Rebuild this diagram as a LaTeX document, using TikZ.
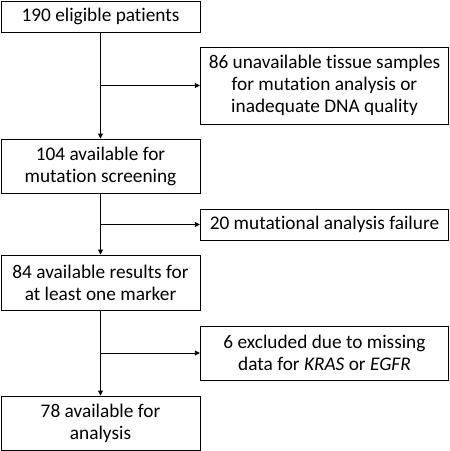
\documentclass[tikz,border=0pt]{standalone}
\usepackage{fontspec}
\setmainfont{Carlito}[Ligatures=NoCommon]
\usetikzlibrary{arrows.meta, positioning, calc}

\tikzset{
  box/.style={draw=black, line width=0.9pt, align=center, inner sep=0pt,
    font=\fontsize{19.3}{22}\selectfont},
  leftbox/.style={box, minimum width=199pt},
  sidebox/.style={box, minimum width=248.5pt},
  arr/.style={-{Triangle[length=5pt, width=5pt]}, line width=0.9pt}
}

\begin{document}
\begin{tikzpicture}[x=1pt, y=-1pt]

  \useasboundingbox (0,0) rectangle (450,451);

  % main column
  \node[leftbox, minimum height=31pt] (patients) at (100.5,16.5) {190 eligible patients};
  \node[leftbox, minimum height=54pt] (screening) at (100.5,166) {104 available for\\mutation screening};
  \node[leftbox, minimum height=55pt] (results) at (100.5,282.5) {84 available results for\\at least one marker};
  \node[leftbox, minimum height=54pt] (analysis) at (100.5,423) {78 available for\\analysis};

  % exclusions
  \node[sidebox, minimum height=77pt] (unavail) at (324.5,85.5) {86 unavailable tissue samples\\for mutation analysis or\\inadequate DNA quality};
  \node[sidebox, minimum height=31pt] (failure) at (324.5,224.5) {20 mutational analysis failure};
  \node[sidebox, minimum height=54pt] (excluded) at (324.5,353) {6 excluded due to missing\\data for \textit{KRAS} or \textit{EGFR}};

  \draw[arr] (patients.south) -- (screening.north);
  \draw[arr] (screening.south) -- (results.north);
  \draw[arr] (results.south) -- (analysis.north);

  \draw[arr] (unavail.west -| patients.south) -- (unavail.west);
  \draw[arr] (failure.west -| screening.south) -- (failure.west);
  \draw[arr] (excluded.west -| results.south) -- (excluded.west);

\end{tikzpicture}
\end{document}
